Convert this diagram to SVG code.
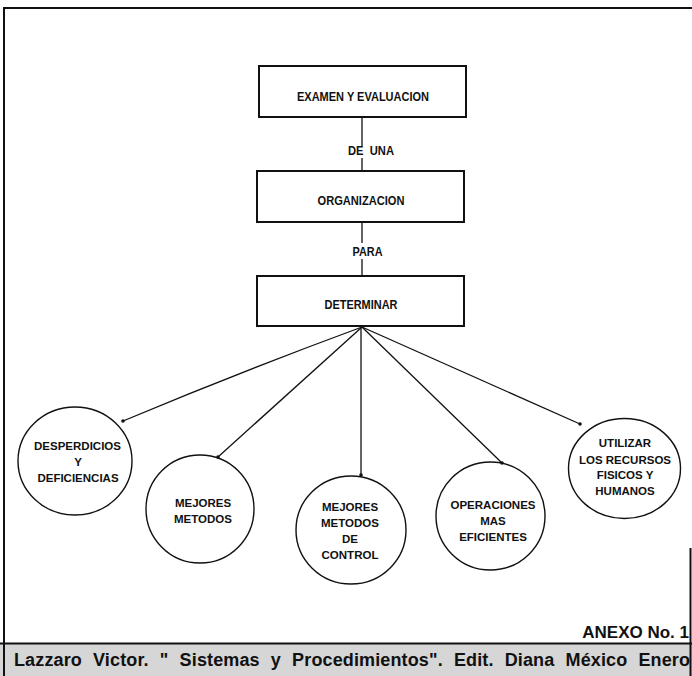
<svg xmlns="http://www.w3.org/2000/svg" width="692" height="676" viewBox="0 0 692 676">
<defs>
<style>
.box{fill:none;stroke:#111;stroke-width:2}
.circ{fill:none;stroke:#111;stroke-width:1.4}
.ln{fill:none;stroke:#111;stroke-width:1.3}
.t{font-family:"Liberation Sans",Arial,sans-serif;font-weight:bold;font-size:12px;fill:#111;text-anchor:middle}
.c{font-family:"Liberation Sans",Arial,sans-serif;font-weight:bold;font-size:11.5px;fill:#111;text-anchor:middle}
.frame{fill:none;stroke:#111;stroke-width:2}
</style>
<marker id="dot" viewBox="0 0 4 4" refX="2" refY="2" markerWidth="4" markerHeight="4" markerUnits="userSpaceOnUse">
<circle cx="2" cy="2" r="1.8" fill="#111"/>
</marker>
</defs>
<rect x="0" y="0" width="692" height="676" fill="#fff"/>
<rect x="0" y="644" width="692" height="32" fill="#d6d6d6"/>
<g id="frame">
<line class="frame" x1="4" y1="8" x2="692" y2="8"/>
<line class="frame" x1="4" y1="7" x2="4" y2="676"/>
<line class="frame" x1="0" y1="643.5" x2="692" y2="643.5"/>
<line class="frame" x1="690.5" y1="548" x2="690.5" y2="676"/>
</g>
<g id="connectors">
<line class="ln" x1="362" y1="117" x2="362" y2="146"/>
<line class="ln" x1="362" y1="158" x2="362" y2="171"/>
<line class="ln" x1="362" y1="222" x2="362" y2="243"/>
<line class="ln" x1="362" y1="259" x2="362" y2="276"/>
<path class="ln" d="M362 327 Q240 372 123 421" marker-end="url(#dot)"/>
<line class="ln" x1="362" y1="327" x2="218" y2="457" marker-end="url(#dot)"/>
<line class="ln" x1="361" y1="327" x2="361" y2="475" marker-end="url(#dot)"/>
<line class="ln" x1="362" y1="327" x2="502" y2="463" marker-end="url(#dot)"/>
<line class="ln" x1="362" y1="327" x2="580" y2="424" marker-end="url(#dot)"/>
<text class="t" x="371" y="155" textLength="46" lengthAdjust="spacingAndGlyphs" xml:space="preserve">DE  UNA</text>
<text class="t" x="367.5" y="256" textLength="30" lengthAdjust="spacingAndGlyphs">PARA</text>
</g>
<g id="n1">
<rect class="box" x="259" y="66" width="207" height="51"/>
<text class="t" x="363" y="101" textLength="132" lengthAdjust="spacingAndGlyphs">EXAMEN Y EVALUACION</text>
</g>
<g id="n2">
<rect class="box" x="257" y="171" width="207" height="51"/>
<text class="t" x="361" y="205" textLength="87" lengthAdjust="spacingAndGlyphs">ORGANIZACION</text>
</g>
<g id="n3">
<rect class="box" x="257" y="276" width="207" height="50"/>
<text class="t" x="361" y="309" textLength="73" lengthAdjust="spacingAndGlyphs">DETERMINAR</text>
</g>
<g id="c1">
<ellipse class="circ" cx="75" cy="461" rx="57" ry="54"/>
<text class="c" x="77.5" y="450">DESPERDICIOS</text>
<text class="c" x="78" y="466">Y</text>
<text class="c" x="78" y="482">DEFICIENCIAS</text>
</g>
<g id="c2">
<ellipse class="circ" cx="200" cy="509" rx="54" ry="54"/>
<text class="c" x="203" y="507">MEJORES</text>
<text class="c" x="203" y="523">METODOS</text>
</g>
<g id="c3">
<ellipse class="circ" cx="351" cy="530" rx="55" ry="54"/>
<text class="c" x="350" y="511">MEJORES</text>
<text class="c" x="350" y="527">METODOS</text>
<text class="c" x="350" y="543">DE</text>
<text class="c" x="350" y="559">CONTROL</text>
</g>
<g id="c4">
<ellipse class="circ" cx="490.5" cy="516" rx="54.5" ry="54"/>
<text class="c" x="493" y="509">OPERACIONES</text>
<text class="c" x="493" y="525">MAS</text>
<text class="c" x="493" y="541">EFICIENTES</text>
</g>
<g id="c5">
<ellipse class="circ" cx="624.5" cy="468.5" rx="56" ry="50"/>
<text class="c" x="625" y="447">UTILIZAR</text>
<text class="c" x="625" y="464">LOS RECURSOS</text>
<text class="c" x="625" y="479">FISICOS Y</text>
<text class="c" x="625" y="495">HUMANOS</text>
</g>
<g id="footer">
<text x="689" y="638" font-family="Liberation Sans,Arial,sans-serif" font-weight="bold" font-size="17" fill="#111" text-anchor="end">ANEXO No. 1</text>
<text x="14" y="666" font-family="Liberation Sans,Arial,sans-serif" font-weight="bold" font-size="18" word-spacing="6" fill="#111" textLength="676" lengthAdjust="spacing">Lazzaro Victor. " Sistemas y Procedimientos". Edit. Diana México Enero</text>
</g>
</svg>
